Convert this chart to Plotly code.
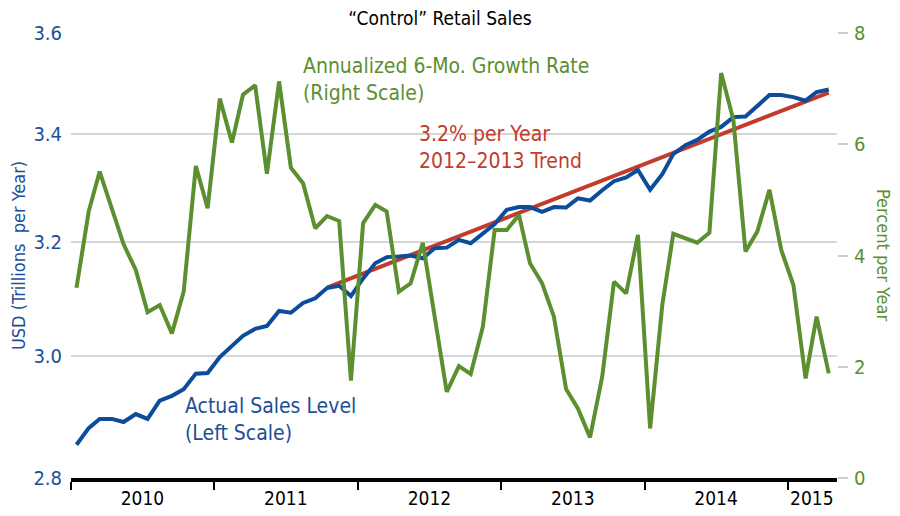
import math
import pandas as pd
import plotly.graph_objects as go

# monthly points, Jan 2010 .. Apr 2015 (plotted mid-month)
months = pd.date_range("2010-01-01", periods=64, freq="MS") + pd.Timedelta(days=14)

# actual control retail sales level, USD trillions per year (left, log scale)
sales_level = [
    2.853, 2.880, 2.895, 2.895, 2.890, 2.903, 2.895, 2.925, 2.933, 2.944,
    2.970, 2.971, 2.998, 3.018, 3.034, 3.046, 3.051, 3.077, 3.074, 3.091,
    3.099, 3.117, 3.121, 3.103, 3.134, 3.161, 3.172, 3.173, 3.175, 3.170,
    3.188, 3.189, 3.203, 3.197, 3.214, 3.232, 3.258, 3.263, 3.263, 3.254,
    3.263, 3.262, 3.279, 3.275, 3.294, 3.311, 3.318, 3.332, 3.295, 3.324,
    3.362, 3.379, 3.389, 3.405, 3.414, 3.433, 3.434, 3.455, 3.476, 3.476,
    3.472, 3.465, 3.482, 3.487,
]

# annualized 6-month growth rate, percent per year (right scale)
growth_rate = [
    3.42, 4.79, 5.51, 4.86, 4.20, 3.74, 2.98, 3.11, 2.60, 3.35,
    5.61, 4.85, 6.82, 6.03, 6.89, 7.06, 5.47, 7.13, 5.58, 5.30,
    4.49, 4.71, 4.62, 1.75, 4.58, 4.91, 4.79, 3.35, 3.50, 4.23,
    2.91, 1.55, 2.01, 1.87, 2.72, 4.46, 4.46, 4.73, 3.86, 3.50,
    2.90, 1.60, 1.25, 0.73, 1.82, 3.53, 3.32, 4.37, 0.89, 3.11,
    4.39, 4.31, 4.23, 4.41, 7.28, 6.44, 4.07, 4.43, 5.18, 4.10,
    3.47, 1.79, 2.90, 1.88,
]

# 3.2% per year trend fitted on 2012-2013
trend_x = ["2011-10-15", "2015-04-15"]
trend_y = [3.118, 3.481]

left_ticks = [2.8, 3.0, 3.2, 3.4, 3.6]
right_ticks = [0, 2, 4, 6, 8]
year_labels = ["2010", "2011", "2012", "2013", "2014", "2015"]
year_label_pos = ["2010-07-02", "2011-07-02", "2012-07-02", "2013-07-02",
                  "2014-07-02", "2015-03-03"]

FONT = "DejaVu Sans Condensed, Liberation Sans Narrow, Roboto, sans-serif"
BLUE = "#0d4c9b"
BLUE_TXT = "#1c4f97"
GREEN = "#5b8f2f"
RED = "#c23b2c"

# the page body adds an 8px offset; plot area on the page is x 71..837, y 33..478
def px(x):
    return (x - 71) / 766

def py(y):
    return (478 - y) / 445

fig = go.Figure()

fig.add_trace(go.Scatter(
    x=trend_x, y=trend_y, mode="lines",
    line=dict(color=RED, width=4), showlegend=False, yaxis="y"
))
fig.add_trace(go.Scatter(
    x=months, y=sales_level, mode="lines",
    line=dict(color=BLUE, width=4), showlegend=False, yaxis="y"
))
fig.add_trace(go.Scatter(
    x=months, y=growth_rate, mode="lines",
    line=dict(color=GREEN, width=4), showlegend=False, yaxis="y2"
))

fig.update_layout(
    width=892, height=508,
    margin=dict(l=63, r=63, t=25, b=38, autoexpand=False),
    paper_bgcolor="white", plot_bgcolor="white",
    font=dict(family=FONT),
    title=dict(text="“Control” Retail Sales", x=px(440), xanchor="center",
               xref="paper", y=1 - 10 / 508, yanchor="middle",
               font=dict(family=FONT, size=19, color="black")),
    xaxis=dict(
        type="date", range=["2010-01-01", "2015-05-06"], automargin=False,
        showgrid=False, zeroline=False,
        showline=True, linecolor="black", linewidth=4,
        tickvals=year_label_pos, ticktext=year_labels,
        ticks="", tickfont=dict(family=FONT, size=19, color="black"),
        minor=dict(dtick="M12", tick0="2010-01-01", ticks="outside",
                   ticklen=8, tickwidth=2, tickcolor="black", showgrid=False),
    ),
    yaxis=dict(
        type="log", range=[math.log10(2.8), math.log10(3.6)], automargin=False,
        tickvals=left_ticks, ticktext=[f"{v:.1f}" for v in left_ticks],
        showgrid=True, gridcolor="#d6d6d6", gridwidth=1.5,
        zeroline=False, showline=False, ticks="",
        ticklabelstandoff=8,
        tickfont=dict(family=FONT, size=20, color=BLUE_TXT),
        title=dict(text="USD (Trillions  per Year)", standoff=12,
                   font=dict(family=FONT, size=18, color=BLUE_TXT)),
    ),
    yaxis2=dict(
        overlaying="y", side="right", range=[0, 8], automargin=False,
        tickvals=right_ticks, showgrid=False, zeroline=False, showline=False,
        ticks="outside", ticklen=10, tickwidth=1.5, tickcolor="#cccccc",
        ticklabelstandoff=2,
        tickfont=dict(family=FONT, size=20, color=GREEN),
    ),
    annotations=[
        dict(text="Annualized 6-Mo. Growth Rate<br>(Right Scale)",
             xref="paper", yref="paper", x=px(301), y=py(52),
             xanchor="left", yanchor="top", align="left", showarrow=False,
             font=dict(family=FONT, size=21, color=GREEN)),
        dict(text="3.2% per Year<br>2012–2013 Trend",
             xref="paper", yref="paper", x=px(417), y=py(120),
             xanchor="left", yanchor="top", align="left", showarrow=False,
             font=dict(family=FONT, size=21, color=RED)),
        dict(text="Actual Sales Level<br>(Left Scale)",
             xref="paper", yref="paper", x=px(183), y=py(392),
             xanchor="left", yanchor="top", align="left", showarrow=False,
             font=dict(family=FONT, size=21, color=BLUE_TXT)),
        dict(text="Percent per Year", textangle=90,
             xref="paper", yref="paper", x=px(883), y=py(255),
             xanchor="center", yanchor="middle", showarrow=False,
             font=dict(family=FONT, size=18, color=GREEN)),
    ],
)

fig.write_html("out.html")
